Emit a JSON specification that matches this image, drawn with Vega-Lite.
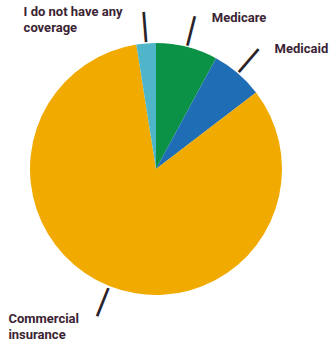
{
  "$schema": "https://vega.github.io/schema/vega-lite/v6.json",
  "width": 312,
  "height": 338,
  "autosize": "none",
  "padding": {"left": 0, "top": 0, "right": 24, "bottom": 11},
  "background": "white",
  "data": {"values": [
    {"cat": "Medicare", "label": "Medicare", "pct": 7.9, "order": 1},
    {"cat": "Medicaid", "label": "Medicaid", "pct": 6.7, "order": 2},
    {"cat": "Commercial insurance", "label": "Commercial\ninsurance", "pct": 82.9, "order": 3},
    {"cat": "I do not have any coverage", "label": "I do not have any\ncoverage", "pct": 2.5, "order": 4}
  ]},
  "encoding": {
    "theta": {"field": "pct", "type": "quantitative", "stack": true},
    "order": {"field": "order", "type": "quantitative"}
  },
  "layer": [
    {
      "mark": {"type": "arc", "outerRadius": 126},
      "encoding": {
        "color": {
          "field": "cat", "type": "nominal", "legend": null,
          "scale": {
            "domain": ["Medicare", "Medicaid", "Commercial insurance", "I do not have any coverage"],
            "range": ["#0b9247", "#1f6db5", "#f1aa00", "#4fb5c8"]
          }
        }
      }
    },
    {
      "mark": {"type": "text", "text": "|", "radius": 143, "fontSize": 36, "font": "Roboto", "fontWeight": 400, "color": "#2a2228", "align": "center", "baseline": "middle"},
      "encoding": {
        "angle": {
          "field": "cat", "type": "ordinal", "legend": null,
          "scale": {
            "type": "ordinal",
            "domain": ["Medicare", "Medicaid", "Commercial insurance", "I do not have any coverage"],
            "range": [14.2, 40.5, 21.8, 355.5]
          }
        }
      }
    },
    {
      "mark": {"type": "text", "radius": 158, "align": "left", "baseline": "middle", "dx": 17, "dy": 2, "font": "Roboto", "fontWeight": "bold", "fontSize": 13, "color": "#3b2433", "lineBreak": "\n", "lineHeight": 16},
      "encoding": {"text": {"condition": {"test": "datum.cat === 'Medicare'", "field": "label", "type": "nominal"}, "value": ""}}
    },
    {
      "mark": {"type": "text", "radius": 158, "align": "left", "baseline": "middle", "dx": 16, "dy": 0, "font": "Roboto", "fontWeight": "bold", "fontSize": 13, "color": "#3b2433", "lineBreak": "\n", "lineHeight": 16},
      "encoding": {"text": {"condition": {"test": "datum.cat === 'Medicaid'", "field": "label", "type": "nominal"}, "value": ""}}
    },
    {
      "mark": {"type": "text", "radius": 158, "align": "left", "baseline": "top", "dx": -89, "dy": -3, "font": "Roboto", "fontWeight": "bold", "fontSize": 13, "color": "#3b2433", "lineBreak": "\n", "lineHeight": 16},
      "encoding": {"text": {"condition": {"test": "datum.cat === 'Commercial insurance'", "field": "label", "type": "nominal"}, "value": ""}}
    },
    {
      "mark": {"type": "text", "radius": 158, "align": "left", "baseline": "top", "dx": -120, "dy": -5, "font": "Roboto", "fontWeight": "bold", "fontSize": 13, "color": "#3b2433", "lineBreak": "\n", "lineHeight": 16},
      "encoding": {"text": {"condition": {"test": "datum.cat === 'I do not have any coverage'", "field": "label", "type": "nominal"}, "value": ""}}
    }
  ],
  "config": {"view": {"stroke": null}}
}
